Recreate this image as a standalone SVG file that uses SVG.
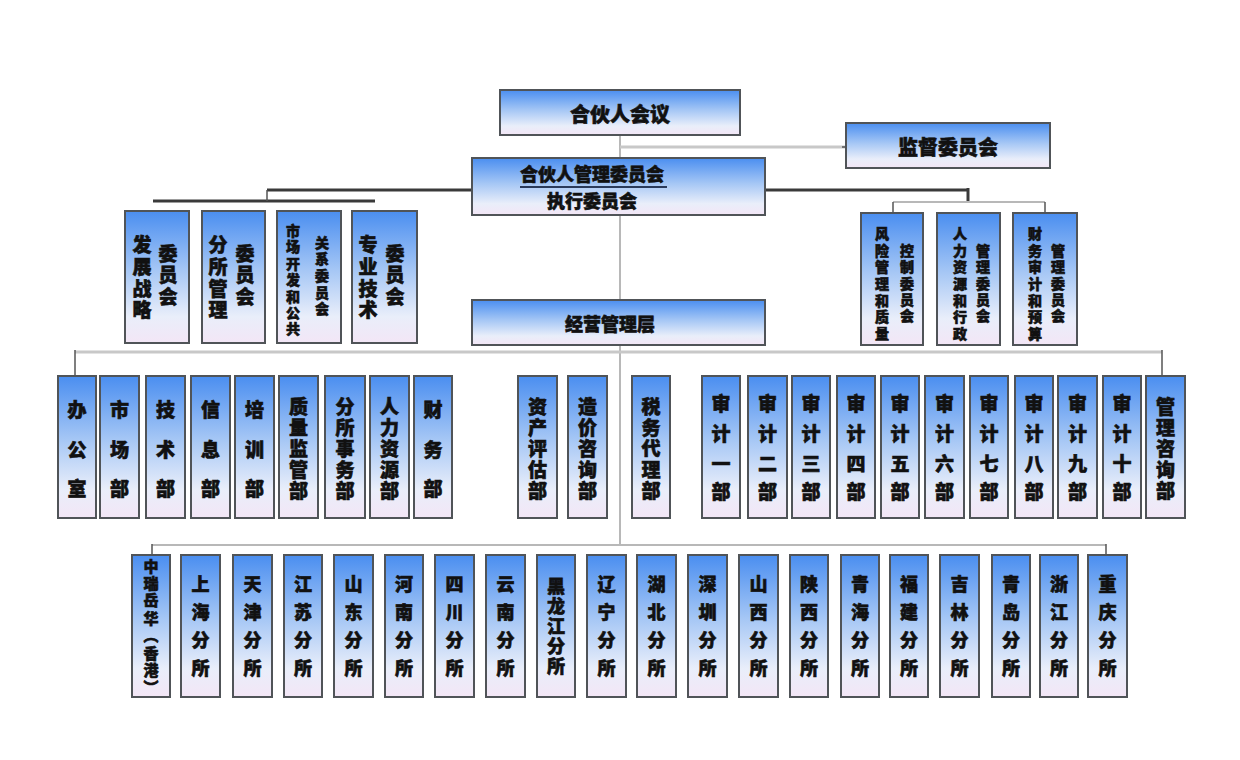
<svg xmlns="http://www.w3.org/2000/svg" width="1240" height="760" viewBox="0 0 1240 760">
<defs>
<linearGradient id="g" x1="0" y1="0" x2="0" y2="1">
<stop offset="0" stop-color="#4a8ef0"/>
<stop offset="0.45" stop-color="#a6c7f5"/>
<stop offset="0.8" stop-color="#e9eefa"/>
<stop offset="1" stop-color="#f3e6f6"/>
</linearGradient>
<style>
.b{fill:url(#g);stroke:#505458;stroke-width:2}
text{font-family:"Noto Sans CJK SC","Noto Sans",sans-serif;font-weight:900;fill:#111;stroke:#111;stroke-width:0.6;text-anchor:middle;dominant-baseline:central}
.t20{font-size:20px}
.t18{font-size:18px}
.t19{font-size:19px}
.t14{font-size:14px}
.t15{font-size:15px}
.dk{stroke:#3a3a3a;stroke-width:3;fill:none}
.lt{stroke:#b8b8b8;stroke-width:2;fill:none}
.lt3{stroke:#c8c8c8;stroke-width:3;fill:none}
.th{stroke:#555;stroke-width:1.5;fill:none}
</style>
</defs>
<rect width="1240" height="760" fill="#ffffff"/>

<g id="connectors">
<path class="lt" d="M620 135V158"/>
<path class="lt3" d="M620 147H846"/>
<path class="th" d="M842 147H847"/>
<path class="dk" d="M267 190H472"/>
<path class="dk" d="M765 190H968"/>
<path class="dk" d="M153 201H375"/>
<path class="th" d="M267 190V201"/>
<path class="dk" d="M968 188V202"/>
<path class="lt" d="M893 202H1045"/>
<path class="th" d="M893 202V213M1045 202V213"/>
<path class="lt" d="M620 215V300"/>
<path class="lt" d="M620 345V545"/>
<path class="lt3" d="M75 352H1162"/>
<path class="th" d="M75 350V376M1162 350V376"/>
<path class="lt" d="M152 545H1106"/>
<path class="th" d="M152 544V555M1106 544V555"/>
</g>

<g id="n-partners"><rect class="b" x="500" y="90" width="240" height="45"/><text class="t20" x="620" y="113">合伙人会议</text></g>
<g id="n-supervise"><rect class="b" x="846" y="123" width="204" height="45"/><text class="t20" x="948" y="146">监督委员会</text></g>
<g id="n-mgmt"><rect class="b" x="472" y="158" width="293" height="57"/><text class="t18" x="592" y="173">合伙人管理委员会</text><line x1="520" y1="187" x2="667" y2="187" stroke="#2a3a5a" stroke-width="2"/><text class="t18" x="592" y="200">执行委员会</text></g>
<g id="n-ops"><rect class="b" x="472" y="300" width="293" height="45"/><text class="t18" x="610" y="323">经营管理层</text></g>

<g id="c-strategy"><rect class="b" x="125" y="211" width="64" height="132"/><text class="t19" x="142 142 142 142" y="243 265 287 308">发展战略</text><text class="t19" x="168 168 168" y="252 273 295">委员会</text></g>
<g id="c-branch"><rect class="b" x="202" y="211" width="63" height="132"/><text class="t19" x="218 218 218 218" y="243 265 287 308">分所管理</text><text class="t19" x="245 245 245" y="252 273 295">委员会</text></g>
<g id="c-market"><rect class="b" x="277" y="211" width="64" height="132"/><text class="t14" x="293 293 293 293 293 293 293" y="230 246 263 279 296 312 328">市场开发和公共</text><text class="t14" x="322 322 322 322 322" y="242 258 275 292 308">关系委员会</text></g>
<g id="c-tech"><rect class="b" x="352" y="211" width="65" height="132"/><text class="t19" x="368 368 368 368" y="243 265 287 308">专业技术</text><text class="t19" x="395 395 395" y="252 273 295">委员会</text></g>

<g id="c-risk"><rect class="b" x="861" y="213" width="62" height="132"/><text class="t14" x="882 882 882 882 882 882 882" y="233 250 266 283 300 316 333">风险管理和质量</text><text class="t14" x="907 907 907 907 907" y="250 266 283 299 315">控制委员会</text></g>
<g id="c-hr"><rect class="b" x="937" y="213" width="63" height="132"/><text class="t14" x="960 960 960 960 960 960 960" y="233 250 266 283 300 316 333">人力资源和行政</text><text class="t14" x="983 983 983 983 983" y="250 266 283 299 315">管理委员会</text></g>
<g id="c-fin"><rect class="b" x="1013" y="213" width="64" height="132"/><text class="t14" x="1035 1035 1035 1035 1035 1035 1035" y="233 250 266 283 300 316 333">财务审计和预算</text><text class="t14" x="1058 1058 1058 1058 1058" y="250 266 283 299 315">管理委员会</text></g>

<g id="d1"><rect class="b" x="58" y="376" width="38" height="142"/><text class="t19" x="77 77 77" y="408 448 487">办公室</text></g>
<g id="d2"><rect class="b" x="100" y="376" width="39" height="142"/><text class="t19" x="119.5 119.5 119.5" y="408 448 487">市场部</text></g>
<g id="d3"><rect class="b" x="146" y="376" width="39" height="142"/><text class="t19" x="165.5 165.5 165.5" y="408 448 487">技术部</text></g>
<g id="d4"><rect class="b" x="191" y="376" width="39" height="142"/><text class="t19" x="210.5 210.5 210.5" y="408 448 487">信息部</text></g>
<g id="d5"><rect class="b" x="235" y="376" width="39" height="142"/><text class="t19" x="254.5 254.5 254.5" y="408 448 487">培训部</text></g>
<g id="d6"><rect class="b" x="279" y="376" width="39" height="142"/><text class="t19" x="298.5 298.5 298.5 298.5 298.5" y="405 426 447 468 489">质量监管部</text></g>
<g id="d7"><rect class="b" x="325" y="376" width="40" height="142"/><text class="t19" x="345 345 345 345 345" y="405 426 447 468 489">分所事务部</text></g>
<g id="d8"><rect class="b" x="370" y="376" width="39" height="142"/><text class="t19" x="389.5 389.5 389.5 389.5 389.5" y="405 426 447 468 489">人力资源部</text></g>
<g id="d9"><rect class="b" x="414" y="376" width="38" height="142"/><text class="t19" x="433 433 433" y="408 448 487">财务部</text></g>
<g id="d10"><rect class="b" x="518" y="376" width="39" height="142"/><text class="t19" x="537.5 537.5 537.5 537.5 537.5" y="405 426 447 468 489">资产评估部</text></g>
<g id="d11"><rect class="b" x="568" y="376" width="39" height="142"/><text class="t19" x="587.5 587.5 587.5 587.5 587.5" y="405 426 447 468 489">造价咨询部</text></g>
<g id="d12"><rect class="b" x="632" y="376" width="38" height="142"/><text class="t19" x="651 651 651 651 651" y="405 426 447 468 489">税务代理部</text></g>
<g id="d13"><rect class="b" x="702" y="376" width="38" height="142"/><text class="t19" x="721 721 721 721" y="402 432 462 490">审计一部</text></g>
<g id="d14"><rect class="b" x="748" y="376" width="39" height="142"/><text class="t19" x="767.5 767.5 767.5 767.5" y="402 432 462 490">审计二部</text></g>
<g id="d15"><rect class="b" x="792" y="376" width="38" height="142"/><text class="t19" x="811 811 811 811" y="402 432 462 490">审计三部</text></g>
<g id="d16"><rect class="b" x="837" y="376" width="38" height="142"/><text class="t19" x="856 856 856 856" y="402 432 462 490">审计四部</text></g>
<g id="d17"><rect class="b" x="881" y="376" width="38" height="142"/><text class="t19" x="900 900 900 900" y="402 432 462 490">审计五部</text></g>
<g id="d18"><rect class="b" x="925" y="376" width="39" height="142"/><text class="t19" x="944.5 944.5 944.5 944.5" y="402 432 462 490">审计六部</text></g>
<g id="d19"><rect class="b" x="970" y="376" width="38" height="142"/><text class="t19" x="989 989 989 989" y="402 432 462 490">审计七部</text></g>
<g id="d20"><rect class="b" x="1015" y="376" width="38" height="142"/><text class="t19" x="1034 1034 1034 1034" y="402 432 462 490">审计八部</text></g>
<g id="d21"><rect class="b" x="1058" y="376" width="39" height="142"/><text class="t19" x="1077.5 1077.5 1077.5 1077.5" y="402 432 462 490">审计九部</text></g>
<g id="d22"><rect class="b" x="1103" y="376" width="38" height="142"/><text class="t19" x="1122 1122 1122 1122" y="402 432 462 490">审计十部</text></g>
<g id="d23"><rect class="b" x="1146" y="376" width="39" height="142"/><text class="t19" x="1165.5 1165.5 1165.5 1165.5 1165.5" y="405 426 447 468 489">管理咨询部</text></g>

<g id="b1"><rect class="b" x="132" y="555" width="38" height="142"/><text class="t15" x="151 151 151 151 151 151 151 151" y="565 582 599 617 634 652 669 686">中瑞岳华︵香港︶</text></g>
<g id="b2"><rect class="b" x="181" y="555" width="39" height="142"/><text class="t18" x="200.5 200.5 200.5 200.5" y="583 611 639 667">上海分所</text></g>
<g id="b3"><rect class="b" x="233" y="555" width="39" height="142"/><text class="t18" x="252.5 252.5 252.5 252.5" y="583 611 639 667">天津分所</text></g>
<g id="b4"><rect class="b" x="284" y="555" width="38" height="142"/><text class="t18" x="303 303 303 303" y="583 611 639 667">江苏分所</text></g>
<g id="b5"><rect class="b" x="334" y="555" width="39" height="142"/><text class="t18" x="353.5 353.5 353.5 353.5" y="583 611 639 667">山东分所</text></g>
<g id="b6"><rect class="b" x="385" y="555" width="38" height="142"/><text class="t18" x="404 404 404 404" y="583 611 639 667">河南分所</text></g>
<g id="b7"><rect class="b" x="435" y="555" width="39" height="142"/><text class="t18" x="454.5 454.5 454.5 454.5" y="583 611 639 667">四川分所</text></g>
<g id="b8"><rect class="b" x="486" y="555" width="39" height="142"/><text class="t18" x="505.5 505.5 505.5 505.5" y="583 611 639 667">云南分所</text></g>
<g id="b9"><rect class="b" x="537" y="555" width="38" height="142"/><text class="t18" x="556 556 556 556 556" y="585 605 625 645 665">黑龙江分所</text></g>
<g id="b10"><rect class="b" x="587" y="555" width="39" height="142"/><text class="t18" x="606.5 606.5 606.5 606.5" y="583 611 639 667">辽宁分所</text></g>
<g id="b11"><rect class="b" x="637" y="555" width="39" height="142"/><text class="t18" x="656.5 656.5 656.5 656.5" y="583 611 639 667">湖北分所</text></g>
<g id="b12"><rect class="b" x="688" y="555" width="39" height="142"/><text class="t18" x="707.5 707.5 707.5 707.5" y="583 611 639 667">深圳分所</text></g>
<g id="b13"><rect class="b" x="739" y="555" width="39" height="142"/><text class="t18" x="758.5 758.5 758.5 758.5" y="583 611 639 667">山西分所</text></g>
<g id="b14"><rect class="b" x="790" y="555" width="38" height="142"/><text class="t18" x="809 809 809 809" y="583 611 639 667">陕西分所</text></g>
<g id="b15"><rect class="b" x="841" y="555" width="38" height="142"/><text class="t18" x="860 860 860 860" y="583 611 639 667">青海分所</text></g>
<g id="b16"><rect class="b" x="890" y="555" width="38" height="142"/><text class="t18" x="909 909 909 909" y="583 611 639 667">福建分所</text></g>
<g id="b17"><rect class="b" x="940" y="555" width="39" height="142"/><text class="t18" x="959.5 959.5 959.5 959.5" y="583 611 639 667">吉林分所</text></g>
<g id="b18"><rect class="b" x="992" y="555" width="38" height="142"/><text class="t18" x="1011 1011 1011 1011" y="583 611 639 667">青岛分所</text></g>
<g id="b19"><rect class="b" x="1040" y="555" width="38" height="142"/><text class="t18" x="1059 1059 1059 1059" y="583 611 639 667">浙江分所</text></g>
<g id="b20"><rect class="b" x="1088" y="555" width="39" height="142"/><text class="t18" x="1107.5 1107.5 1107.5 1107.5" y="583 611 639 667">重庆分所</text></g>
</svg>
